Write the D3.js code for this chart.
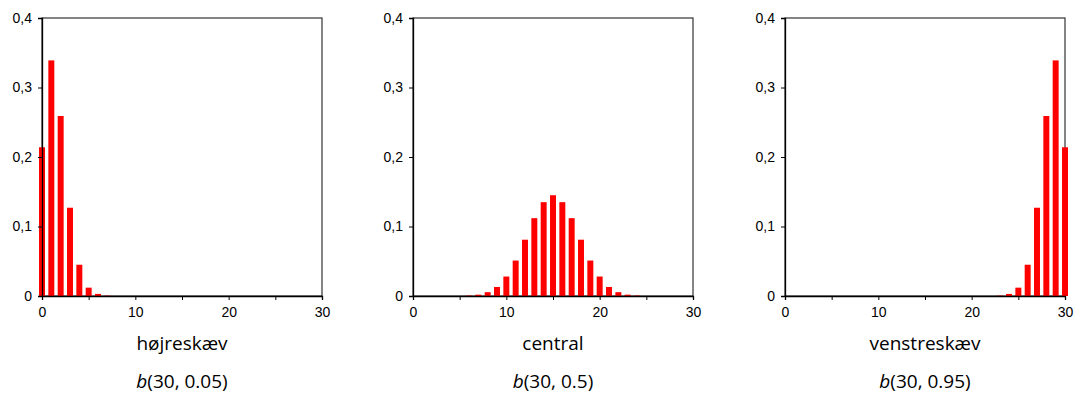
<!DOCTYPE html>
<html>
<head>
<meta charset="utf-8">
<script src="https://cdn.jsdelivr.net/npm/d3@7"></script>
<style>
  body { margin: 0; background: #fff; }
  .tick text { font-family: "Liberation Sans", Arial, sans-serif; font-size: 14px; fill: #000; }
</style>
</head>
<body>
<svg width="1077" height="394"></svg>
<script>
// x values 0..30
const outcomes = [0,1,2,3,4,5,6,7,8,9,10,11,12,13,14,15,16,17,18,19,20,21,22,23,24,25,26,27,28,29,30];

// values
const rightSkewed = [0.214,0.339,0.259,0.127,0.045,0.012,0.003,0.0005,0,0,0,0,0,0,0,0,0,0,0,0,0,0,0,0,0,0,0,0,0,0,0];
const centralVals = [0,0,0,0,0,0,0.0006,0.0019,0.0055,0.013,0.028,0.051,0.081,0.112,0.135,0.145,0.135,0.112,0.081,0.051,0.028,0.013,0.0055,0.0019,0.0006,0,0,0,0,0,0];
const leftSkewed = [0,0,0,0,0,0,0,0,0,0,0,0,0,0,0,0,0,0,0,0,0,0,0,0.0005,0.003,0.012,0.045,0.127,0.259,0.339,0.214];

const panelNames = ["højreskæv", "central", "venstreskæv"];
const panelParams = ["0.05", "0.5", "0.95"];
const panelValues = [rightSkewed, centralVals, leftSkewed];
const panelLeft = [42, 413, 785];

const yTicks = [0, 0.1, 0.2, 0.3, 0.4];
const xTickLabels = [0, 10, 20, 30];
const xTickMarks = [0, 5, 10, 15, 20, 25, 30];

const plotWidth = 280;
const plotTop = 18, plotBottom = 296;

const locale = d3.formatLocale({ decimal: ",", thousands: ".", grouping: [3], currency: ["", ""] });
const fmt = v => v === 0 ? "0" : locale.format(".1f")(v);

const svg = d3.select("svg");

panelValues.forEach((vals, i) => {
  const x = d3.scaleLinear().domain([0, 30]).range([panelLeft[i], panelLeft[i] + plotWidth]);
  const y = d3.scaleLinear().domain([0, 0.4]).range([plotBottom, plotTop]);
  const g = svg.append("g");
  const barW = (x(1) - x(0)) * 0.64;

  // frame
  g.append("rect")
    .attr("x", x(0)).attr("y", y(0.4))
    .attr("width", x(30) - x(0)).attr("height", y(0) - y(0.4))
    .attr("fill", "none").attr("stroke", "#333").attr("stroke-width", 1.2);

  // bars
  g.selectAll(".bar")
    .data(outcomes)
    .join("rect")
    .attr("class", "bar")
    .attr("x", d => x(d) - barW / 2)
    .attr("y", d => y(vals[d]))
    .attr("width", barW)
    .attr("height", d => y(0) - y(vals[d]))
    .attr("fill", "#ff0000");

  // y axis
  const yAxis = g.append("g")
    .attr("transform", `translate(${x(0)},0)`)
    .call(d3.axisLeft(y).tickValues(yTicks).tickFormat(fmt).tickSize(4).tickPadding(6));
  yAxis.select(".domain").attr("stroke", "#000").attr("stroke-width", 1.3);

  // x axis
  const xAxis = g.append("g")
    .attr("transform", `translate(0,${y(0)})`)
    .call(d3.axisBottom(x).tickValues(xTickMarks).tickFormat(d => xTickLabels.includes(d) ? d : "").tickSize(4).tickPadding(7));
  xAxis.select(".domain").attr("stroke", "#000").attr("stroke-width", 1.3);

  const cx = (x(0) + x(30)) / 2;
  g.append("text")
    .attr("x", cx).attr("y", 350)
    .attr("text-anchor", "middle")
    .attr("font-family", "Open Sans, sans-serif")
    .attr("font-size", 19)
    .text(panelNames[i]);

  const sub = g.append("text")
    .attr("x", cx).attr("y", 388)
    .attr("text-anchor", "middle")
    .attr("font-family", "Open Sans, sans-serif")
    .attr("font-size", 19);
  sub.append("tspan").attr("font-style", "italic").text("b");
  sub.append("tspan").text(`(30, ${panelParams[i]})`);
});
</script>
</body>
</html>
